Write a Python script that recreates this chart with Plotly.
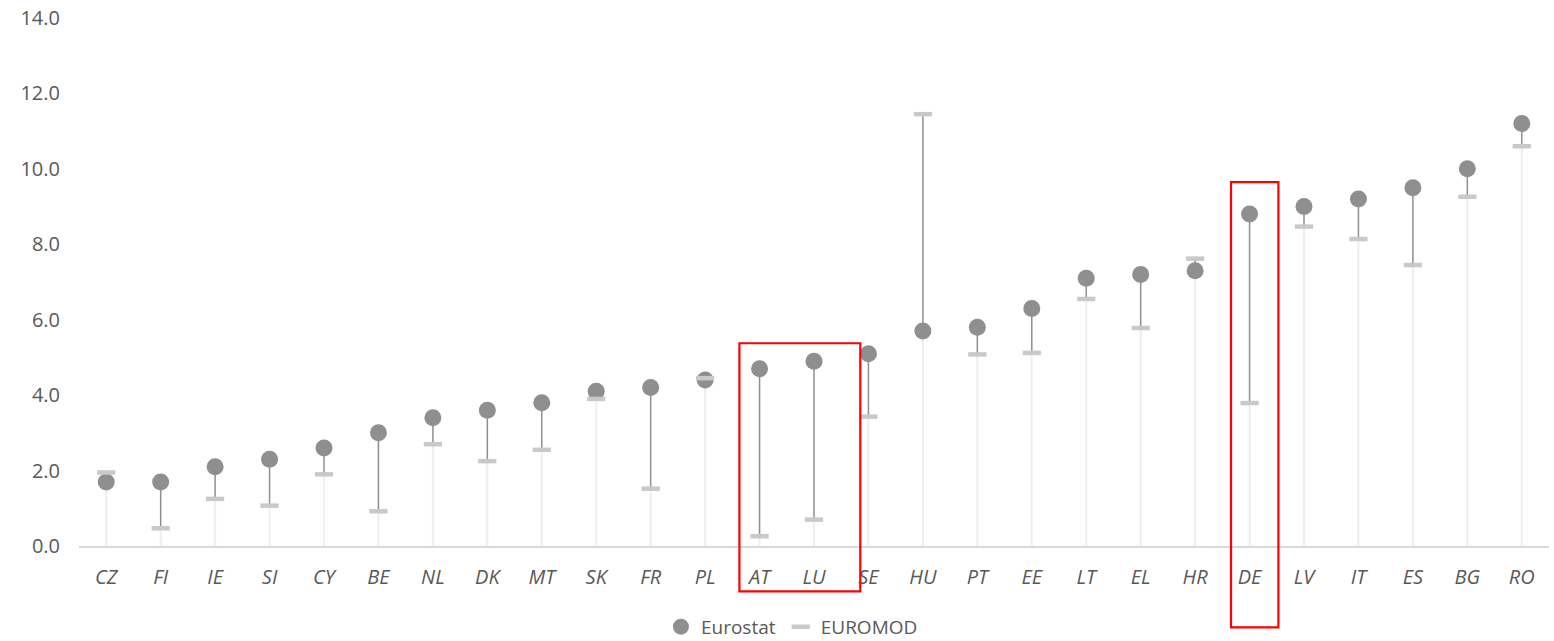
import plotly.graph_objects as go

# Countries, ordered by the Eurostat value
countries = ["CZ", "FI", "IE", "SI", "CY", "BE", "NL", "DK", "MT", "SK", "FR", "PL", "AT", "LU",
             "SE", "HU", "PT", "EE", "LT", "EL", "HR", "DE", "LV", "IT", "ES", "BG", "RO"]
eurostat = [1.7, 1.7, 2.1, 2.3, 2.6, 3.0, 3.4, 3.6, 3.8, 4.1, 4.2, 4.4, 4.7, 4.9,
            5.1, 5.7, 5.8, 6.3, 7.1, 7.2, 7.3, 8.8, 9.0, 9.2, 9.5, 10.0, 11.2]
euromod = [1.95, 0.47, 1.25, 1.07, 1.9, 0.92, 2.7, 2.25, 2.55, 3.9, 1.52, 4.45, 0.26, 0.7,
           3.43, 11.45, 5.08, 5.12, 6.55, 5.78, 7.62, 3.79, 8.47, 8.14, 7.45, 9.26, 10.6]
y_ticks = [0, 2, 4, 6, 8, 10, 12, 14]

# Highlighted groups: (first country, last country)
highlights = [("AT", "LU"), ("DE", "DE")]

font_family = "Open Sans, Segoe UI, sans-serif"
text_color = "#595959"

# Drop lines from the axis to the lower value, high-low lines between the two values
drop_x, drop_y, hl_x, hl_y = [], [], [], []
for c, a, b in zip(countries, eurostat, euromod):
    lo, hi = min(a, b), max(a, b)
    drop_x += [c, c, None]
    drop_y += [0, lo, None]
    hl_x += [c, c, None]
    hl_y += [lo, hi, None]

fig = go.Figure()
fig.add_trace(go.Scatter(x=drop_x, y=drop_y, mode="lines",
                         line=dict(color="#eeeeee", width=2),
                         showlegend=False, hoverinfo="skip"))
fig.add_trace(go.Scatter(x=hl_x, y=hl_y, mode="lines",
                         line=dict(color="#8f8f8f", width=1.5),
                         showlegend=False, hoverinfo="skip"))
fig.add_trace(go.Scatter(x=countries, y=eurostat, mode="markers", name="Eurostat",
                         marker=dict(symbol="circle", size=17, color="#8f8f8f"),
                         cliponaxis=False))
fig.add_trace(go.Scatter(x=countries, y=euromod, mode="markers", name="EUROMOD",
                         marker=dict(symbol="line-ew", size=13,
                                     line=dict(color="#c9c9c9", width=4.5)),
                         cliponaxis=False))

for first, last in highlights:
    i0, i1 = countries.index(first), countries.index(last)
    if first == last:
        x0, x1, y0, y1 = i0 - 0.34, i1 + 0.53, -0.154, 0.689
    else:
        x0, x1, y0, y1 = i0 - 0.37, i1 + 0.85, -0.086, 0.384
    fig.add_shape(type="rect", xref="x", yref="paper", x0=x0, x1=x1, y0=y0, y1=y1,
                  line=dict(color="#ff0000", width=2.2), fillcolor="rgba(0,0,0,0)",
                  layer="above")

fig.update_layout(
    width=1554, height=641,
    margin=dict(l=79, r=5, t=18, b=95, autoexpand=False),
    paper_bgcolor="white", plot_bgcolor="white",
    font=dict(family=font_family, size=20, color=text_color),
    showlegend=True,
    legend=dict(orientation="h", x=0.485, xanchor="center", y=-0.153, yanchor="middle",
                font=dict(size=19, color=text_color), itemwidth=30,
                traceorder="normal", bgcolor="rgba(0,0,0,0)"),
    xaxis=dict(type="category", categoryorder="array", categoryarray=countries,
               range=[-0.5, len(countries) - 0.5],
               showgrid=False, zeroline=False, showline=True,
               linecolor="#d9d9d9", linewidth=1.5, ticks="",
               tickfont=dict(family=font_family, size=20, color=text_color, style="italic"),
               ticklabelstandoff=12),
    yaxis=dict(range=[0, 14], tickvals=y_ticks, tickformat=".1f",
               showgrid=False, zeroline=False, showline=False, ticks="",
               tickfont=dict(family=font_family, size=20, color=text_color),
               ticklabelstandoff=18),
)

fig.write_html("out.html")
